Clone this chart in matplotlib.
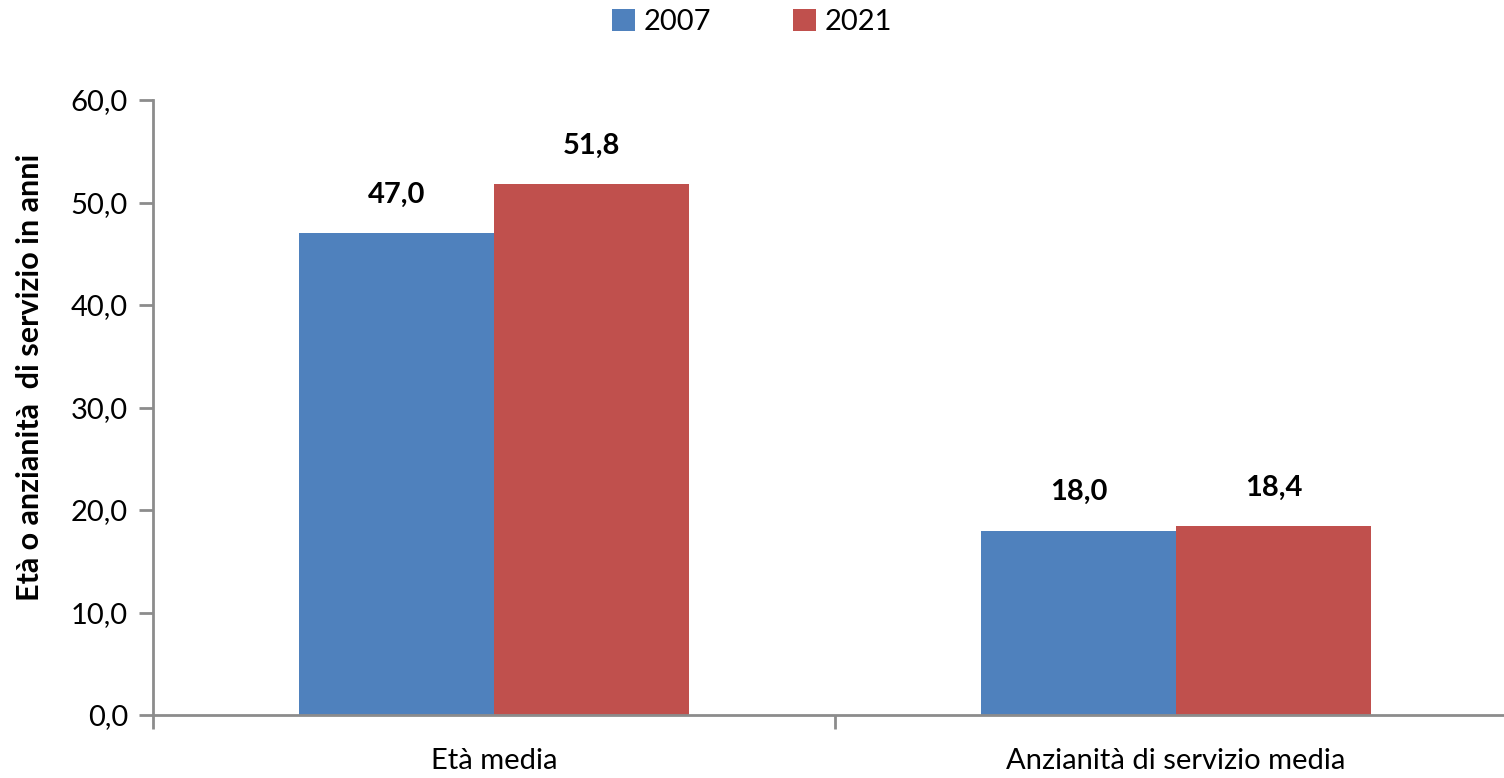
import matplotlib
matplotlib.use("Agg")
import matplotlib.pyplot as plt
import numpy as np
from matplotlib.ticker import FuncFormatter, FixedLocator

categories = ["Età media", "Anzianità di servizio media"]
series_names = ["2007", "2021"]
values_2007 = [47.0, 18.0]
values_2021 = [51.8, 18.4]
colors = ["#4F81BD", "#C0504D"]

plt.rcParams['font.family'] = ['Lato', 'DejaVu Sans']

fig = plt.figure(figsize=(15.04, 7.78), dpi=100)
ax = fig.add_axes([153/1504, 63/778, 1 - 153/1504, (715-100)/778])

x = np.arange(len(categories))
w = 1/3.5
b1 = ax.bar(x - w/2, values_2007, w, color=colors[0], label=series_names[0])
b2 = ax.bar(x + w/2, values_2021, w, color=colors[1], label=series_names[1])

for bars, vals in ((b1, values_2007), (b2, values_2021)):
    for r, v in zip(bars, vals):
        ax.text(r.get_x() + r.get_width()/2, v + 2.5, f"{v:.1f}".replace(".", ","),
                ha="center", va="bottom", fontsize=21, fontweight="bold", color="black")

ax.set_ylim(0, 60)
ax.set_xlim(-0.5, (1504-153)/682 - 0.5)
ax.set_yticks(np.arange(0, 61, 10))
ax.yaxis.set_major_formatter(FuncFormatter(lambda v, p: f"{v:.1f}".replace(".", ",")))
ax.set_xticks(x)
ax.set_xticklabels(categories)
ax.xaxis.set_minor_locator(FixedLocator([-0.5, 0.5]))
ax.tick_params(axis="x", which="major", length=0, labelsize=21, pad=24)
ax.tick_params(axis="x", which="minor", length=10, width=2, color="#8c8c8c")
ax.tick_params(axis="y", length=10, width=2, color="#8c8c8c", labelsize=21, pad=8)

for s in ("top", "right"):
    ax.spines[s].set_visible(False)
for s in ("left", "bottom"):
    ax.spines[s].set_color("#8c8c8c")
    ax.spines[s].set_linewidth(2)

ax.set_ylabel("Età o anzianità  di servizio in anni", fontsize=22, fontweight="bold")
ax.yaxis.set_label_coords((44-153)/1351, (715-377)/615)

leg = fig.legend(handles=[b1, b2], labels=series_names, loc="center", bbox_to_anchor=(752/1504, 1 - 22/778),
                 ncol=2, frameon=False, fontsize=21, handlelength=0.8, handleheight=0.8,
                 handletextpad=0.3, columnspacing=2.8)

fig.savefig("out.png", dpi=100)
